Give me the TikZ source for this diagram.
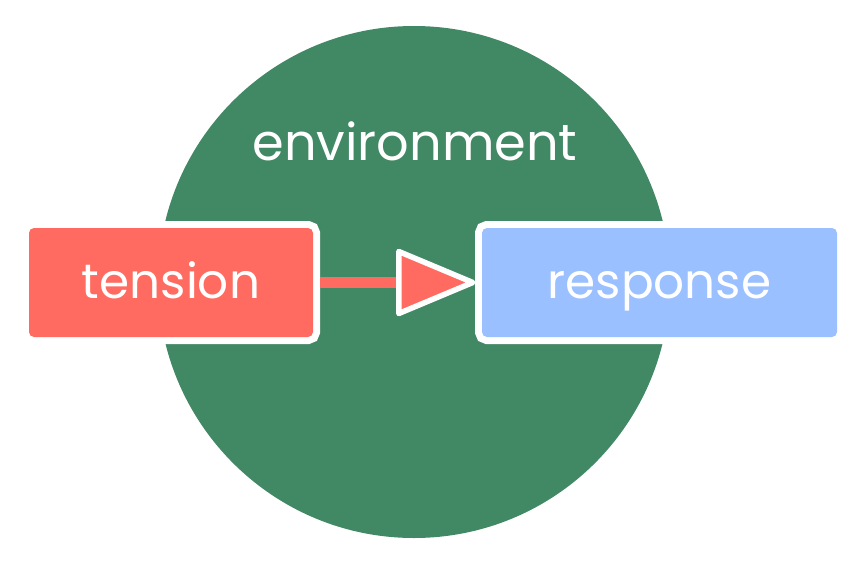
\documentclass[tikz,border=0pt]{standalone}
\usepackage{fontspec}
\setmainfont{Poppins}
\definecolor{envgreen}{RGB}{65,136,100}
\definecolor{tred}{RGB}{255,107,97}
\definecolor{rblue}{RGB}{155,192,255}
\tikzset{
  box/.style={rectangle, rounded corners=5pt, inner sep=0pt, minimum height=109pt,
    text height=70pt, text depth=39pt, text=white, font=\fontsize{48.5}{58}\selectfont,
    preaction={draw=white, line width=14pt}},
  envtext/.style={text=white, font=\fontsize{51}{60}\selectfont, inner sep=0pt, anchor=base},
  redline/.style={draw=tred, line width=11pt, shorten <=7pt, shorten >=85pt},
  tiphead/.style={fill=tred, draw=white, line width=5.5pt, line join=round}
}
\begin{document}
\begin{tikzpicture}[x=1pt, y=-1pt]
\useasboundingbox (0,0) rectangle (855,563);
\node[circle, fill=envgreen, minimum size=512pt, inner sep=0pt] (env) at (414,282) {};
\node[envtext] (envlabel) at (415,160) {environment};
\node[box, fill=tred, minimum width=284pt] (tension) at (171,282.5) {tension};
\node[box, fill=rblue, minimum width=355pt] (response) at (659.5,282.5) {response};
\draw[redline] (tension.east) -- (response.west);
\filldraw[tiphead] ([xshift=-9pt]response.west) coordinate (tip) -- ++(-74,-31) -- ++(0,62) -- cycle;
\end{tikzpicture}
\end{document}
